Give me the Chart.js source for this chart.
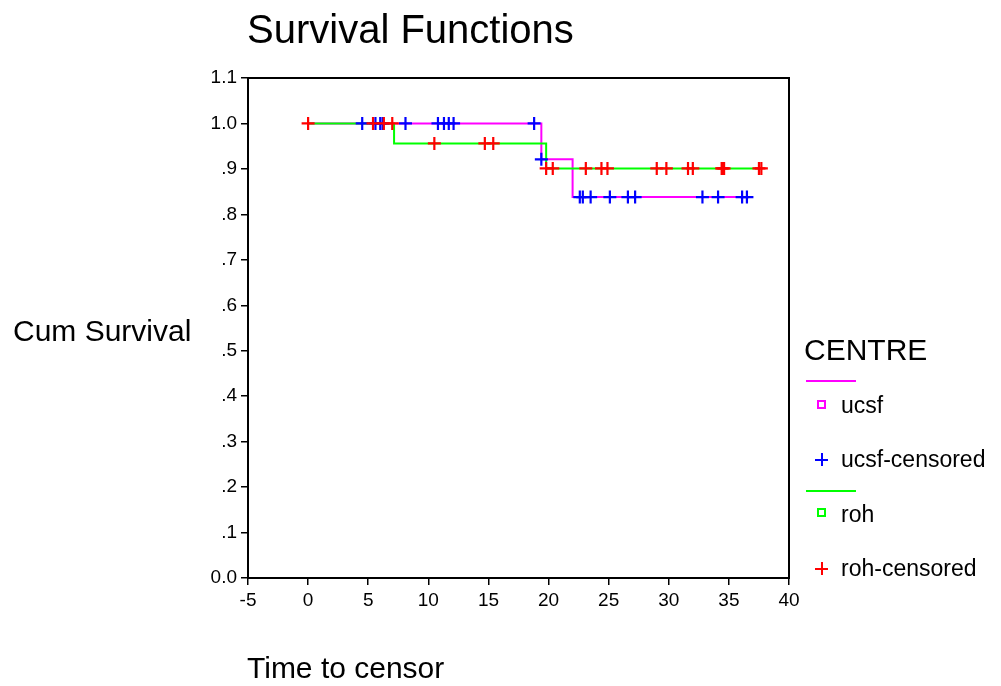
<!DOCTYPE html>
<html>
<head>
<meta charset="utf-8">
<script src="https://cdn.jsdelivr.net/npm/chart.js@4"></script>
<style>
  body { margin: 0; background: #fff; }
  #wrap { position: relative; width: 1001px; height: 686px; font-family: "Liberation Sans", Arial, sans-serif; color: #000; }
  #wrap canvas { position: absolute; left: 0; top: 0; }
  .txt { position: absolute; white-space: nowrap; line-height: 1; }
  .line { position: absolute; height: 2px; }
  .sq { position: absolute; width: 5px; height: 5px; border: 2px solid; }
  .plus { position: absolute; width: 13px; height: 13px; }
  .plus::before, .plus::after { content: ""; position: absolute; background: currentColor; }
  .plus::before { left: 0; top: 5.5px; width: 13px; height: 2px; }
  .plus::after { left: 5.5px; top: 0; width: 2px; height: 13px; }
</style>
</head>
<body>
<div id="wrap">
  <canvas id="km" width="1001" height="686"></canvas>
  <div class="txt" style="left:247px; top:9px; font-size:40px;">Survival Functions</div>
  <div class="txt" style="left:13px; top:316px; font-size:30px;">Cum Survival</div>
  <div class="txt" style="left:247px; top:653px; font-size:30px;">Time to censor</div>

  <div class="txt" style="left:804px; top:335px; font-size:30px;">CENTRE</div>
  <div class="line" style="left:806px; top:380px; width:50px; background:#ff00ff;"></div>
  <div class="sq" style="left:817px; top:400px; border-color:#ff00ff;"></div>
  <div class="txt" style="left:841px; top:394px; font-size:23px;">ucsf</div>
  <div class="plus" style="left:815px; top:453px; color:#0000ff;"></div>
  <div class="txt" style="left:841px; top:448px; font-size:23px;">ucsf-censored</div>
  <div class="line" style="left:806px; top:490px; width:50px; background:#00ff00;"></div>
  <div class="sq" style="left:817px; top:508px; border-color:#00ff00;"></div>
  <div class="txt" style="left:841px; top:503px; font-size:23px;">roh</div>
  <div class="plus" style="left:815px; top:562px; color:#ff0000;"></div>
  <div class="txt" style="left:841px; top:557px; font-size:23px;">roh-censored</div>
</div>
<script>
// step functions (time, cumulative survival)
const ucsfStepTimes = [0, 19.4, 22.0, 36.9];
const ucsfStepSurv = [1.0, 0.921, 0.838, 0.838];
const rohStepTimes = [0, 7.15, 19.8, 37.8];
const rohStepSurv = [1.0, 0.956, 0.901, 0.901];

// censored observations
const ucsfCensTimes = [4.5, 5.6, 6.0, 6.2, 8.1, 10.8, 11.3, 11.7, 12.1, 18.8,
                       19.4,
                       22.6, 22.85, 23.5, 25.1, 26.6, 27.2, 32.8, 34.1, 36.1, 36.5];
const ucsfCensSurv = [1, 1, 1, 1, 1, 1, 1, 1, 1, 1,
                      0.921,
                      0.838, 0.838, 0.838, 0.838, 0.838, 0.838, 0.838, 0.838, 0.838, 0.838];
const rohCensTimes = [0.0, 5.4, 6.3, 7.0,
                      10.5, 14.7, 15.4,
                      19.8, 20.35, 23.1, 24.4, 24.9, 29.0, 29.8, 31.6, 32.0, 34.4, 34.5, 34.6, 37.5, 37.7];
const rohCensSurv = [1, 1, 1, 1,
                     0.956, 0.956, 0.956,
                     0.901, 0.901, 0.901, 0.901, 0.901, 0.901, 0.901, 0.901, 0.901, 0.901, 0.901, 0.901, 0.901, 0.901];

const xTicks = [-5, 0, 5, 10, 15, 20, 25, 30, 35, 40];
const yTickLabels = ["0.0", ".1", ".2", ".3", ".4", ".5", ".6", ".7", ".8", ".9", "1.0", "1.1"];

const toPts = (xs, ys) => xs.map((x, i) => ({ x: x, y: ys[i] }));

// box round the plot area
const frame = {
    id: "frame",
    afterDraw(chart) {
        const a = chart.chartArea, ctx = chart.ctx;
        ctx.save();
        ctx.strokeStyle = "#000";
        ctx.lineWidth = 2;
        ctx.strokeRect(a.left, a.top, a.right - a.left, a.bottom - a.top);
        ctx.restore();
    }
};

const tickFont = { family: "'Liberation Sans', Arial, sans-serif", size: 19 };

new Chart(document.getElementById("km"), {
    type: "scatter",
    data: {
        datasets: [
            { label: "roh-censored", data: toPts(rohCensTimes, rohCensSurv), order: 0,
              pointStyle: "cross", pointRadius: 6.5, borderWidth: 2.2, borderColor: "#ff0000", backgroundColor: "#ff0000" },
            { label: "ucsf-censored", data: toPts(ucsfCensTimes, ucsfCensSurv), order: 1,
              pointStyle: "cross", pointRadius: 6.5, borderWidth: 2.2, borderColor: "#0000ff", backgroundColor: "#0000ff" },
            { label: "roh", data: toPts(rohStepTimes, rohStepSurv), order: 2,
              showLine: true, stepped: "before", pointRadius: 0, borderWidth: 2, borderColor: "#00ff00" },
            { label: "ucsf", data: toPts(ucsfStepTimes, ucsfStepSurv), order: 3,
              showLine: true, stepped: "before", pointRadius: 0, borderWidth: 2, borderColor: "#ff00ff" },
        ],
    },
    options: {
        responsive: false,
        animation: false,
        devicePixelRatio: 1,
        layout: { padding: { left: 0, top: 78, right: 212, bottom: 68 } },
        plugins: { legend: { display: false }, tooltip: { enabled: false } },
        scales: {
            x: {
                type: "linear", min: -5, max: 40,
                afterFit: s => { s.height = 40; },
                afterBuildTicks: s => { s.ticks = xTicks.map(v => ({ value: v })); },
                ticks: { color: "#000", font: tickFont, padding: 4, maxRotation: 0 },
                grid: { drawOnChartArea: false, drawTicks: true, tickLength: 7, color: "#000", lineWidth: 1.5 },
                border: { display: true, color: "#000", width: 2 },
            },
            y: {
                type: "linear", min: 0, max: 1.1,
                afterFit: s => { s.width = 248; },
                afterBuildTicks: s => { s.ticks = yTickLabels.map((l, i) => ({ value: i / 10 })); },
                ticks: { color: "#000", font: tickFont, padding: 4,
                         callback: (v) => yTickLabels[Math.round(v * 10)] },
                grid: { drawOnChartArea: false, drawTicks: true, tickLength: 7, color: "#000", lineWidth: 1.5 },
                border: { display: true, color: "#000", width: 2 },
            },
        },
    },
    plugins: [frame],
});
</script>
</body>
</html>
